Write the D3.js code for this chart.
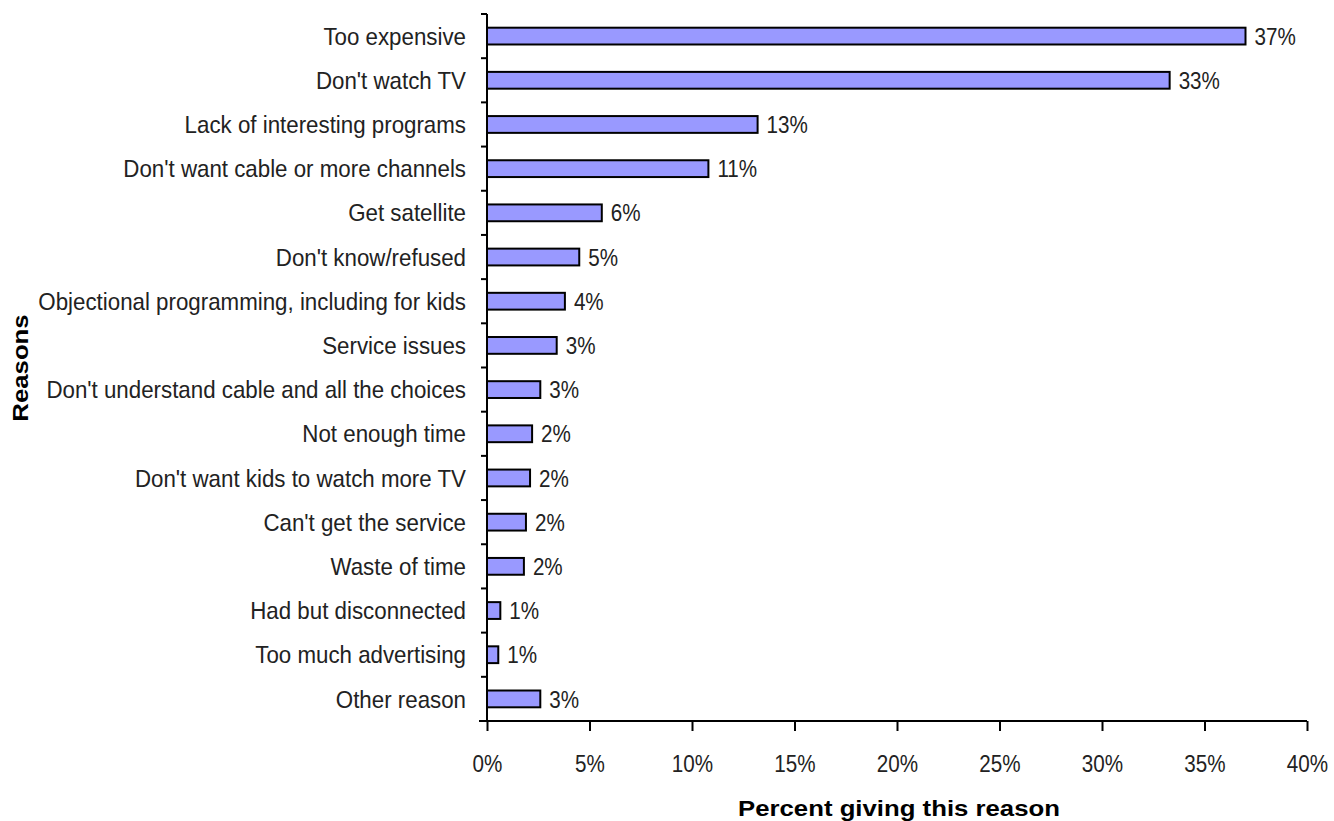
<!DOCTYPE html>
<html><head><meta charset="utf-8">
<script src="https://cdn.jsdelivr.net/npm/d3@7"></script>
<style>body{margin:0;background:#fff}svg{display:block}</style>
</head><body>
<script>
const categories = ["Too expensive","Don't watch TV","Lack of interesting programs","Don't want cable or more channels","Get satellite","Don't know/refused","Objectional programming, including for kids","Service issues","Don't understand cable and all the choices","Not enough time","Don't want kids to watch more TV","Can't get the service","Waste of time","Had but disconnected","Too much advertising","Other reason"];
const values = [37.0,33.3,13.2,10.8,5.6,4.5,3.8,3.4,2.6,2.2,2.1,1.9,1.8,0.65,0.55,2.6];
const valueLabels = ["37%","33%","13%","11%","6%","5%","4%","3%","3%","2%","2%","2%","2%","1%","1%","3%"];
const xTicks = [0,5,10,15,20,25,30,35,40];
const xTitle = "Percent giving this reason";
const yTitle = "Reasons";

const W=1334,H=821;
const pL=487,pR=1307,pT=14,pB=721;
const svg=d3.select("body").append("svg").attr("width",W).attr("height",H);
const font='"Liberation Sans",Arial,sans-serif';
const x=d3.scaleLinear().domain([0,40]).range([pL,pR]);
const y=d3.scaleBand().domain(categories).range([pT,pB]).paddingInner(0.62).paddingOuter(0.31);

svg.selectAll("rect.bar").data(categories).join("rect")
 .attr("x",x(0)).attr("y",d=>y(d)).attr("height",y.bandwidth())
 .attr("width",(d,i)=>x(values[i])-x(0))
 .attr("fill","#9999ff").attr("stroke","#000").attr("stroke-width",2);

svg.selectAll("text.val").data(categories).join("text")
 .attr("transform",(d,i)=>`translate(${x(values[i])+9},${y(d)+y.bandwidth()/2}) scale(0.86,1)`)
 .attr("dy","0.36em").attr("font-family",font).attr("font-size",24).attr("fill","#222")
 .text((d,i)=>valueLabels[i]);

// y axis
svg.append("line").attr("x1",pL).attr("x2",pL).attr("y1",pT).attr("y2",pB).attr("stroke","#000").attr("stroke-width",2);
const bounds=d3.range(categories.length+1).map(i=>pT+i*(pB-pT)/categories.length);
svg.selectAll("line.yt").data(bounds).join("line").attr("x1",pL-6).attr("x2",pL).attr("y1",d=>d).attr("y2",d=>d).attr("stroke","#000").attr("stroke-width",2);
svg.selectAll("text.cat").data(categories).join("text")
 .attr("transform",d=>`translate(${pL-21},${y(d)+y.bandwidth()/2}) scale(0.93,1)`).attr("dy","0.36em")
 .attr("text-anchor","end").attr("font-family",font).attr("font-size",24).attr("fill","#222").text(d=>d);

// x axis
const xa=svg.append("g").attr("transform",`translate(0,${pB})`)
 .call(d3.axisBottom(x).tickValues(xTicks).tickSize(10).tickSizeOuter(0).tickFormat(d=>d+"%"));
xa.select(".domain").attr("stroke","#000").attr("stroke-width",2).attr("d",`M${pL-8},0H${pR}`);
xa.selectAll(".tick line").attr("stroke","#000").attr("stroke-width",2);
xa.selectAll(".tick text").attr("font-family",font).attr("font-size",24).attr("fill","#222")
 .attr("y",null).attr("dy",null).attr("transform","translate(0,51) scale(0.86,1)");

svg.append("text").attr("transform",`translate(899,816) scale(1.12,1)`).attr("text-anchor","middle")
 .attr("font-family",font).attr("font-weight","bold").attr("font-size",23).text(xTitle);
svg.append("text").attr("transform",`translate(28,368) rotate(-90) scale(1.12,1)`).attr("text-anchor","middle")
 .attr("font-family",font).attr("font-weight","bold").attr("font-size",23).text(yTitle);
</script>
</body></html>
